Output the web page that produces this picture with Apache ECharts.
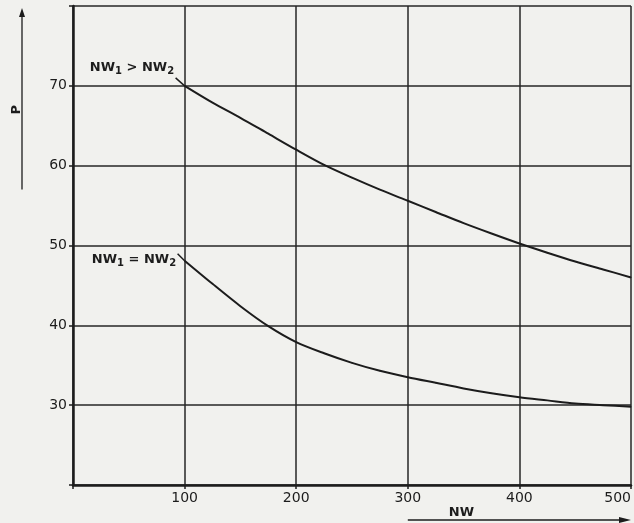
<!DOCTYPE html>
<html><head><meta charset="utf-8">
<script src="https://cdn.jsdelivr.net/npm/echarts@6/dist/echarts.min.js"></script>
<style>html,body{margin:0;padding:0;background:#f1f1ee}#c{width:634px;height:523px}</style>
</head><body><div id="c"></div>
<script>
// NW values (x) and P values (y)
const nwValues = [100, 125, 150, 175, 200, 225, 250, 275, 300, 325, 350, 375, 400, 425, 450, 475, 500];
const pUpper   = [70.0, 67.9, 66.0, 64.0, 62.0, 60.1, 58.5, 57.0, 55.6, 54.2, 52.8, 51.5, 50.25, 49.1, 48.0, 47.0, 46.0];
const pLower   = [48.1, 45.2, 42.4, 39.9, 37.9, 36.5, 35.3, 34.3, 33.5, 32.8, 32.1, 31.5, 31.0, 30.6, 30.2, 30.0, 29.8];
const xTickLabels = ['100', '200', '300', '400', '500'];
const yTickLabels = ['30', '40', '50', '60', '70'];
const upperName = ['NW', '1', ' > NW', '2'];
const lowerName = ['NW', '1', ' = NW', '2'];
const xAxisName = 'NW';
const yAxisName = 'P';

const INK = '#1c1c1c';
const FONT = 'DejaVu Sans';

function richName(parts) {
  return '{a|' + parts[0] + '}{s|' + parts[1] + '}{a|' + parts[2] + '}{s|' + parts[3] + '}';
}
const rich = {
  a: {fontFamily: FONT, fontSize: 13, fontWeight: 'bold', color: INK, lineHeight: 18},
  s: {fontFamily: FONT, fontSize: 10, fontWeight: 'bold', color: INK, lineHeight: 18, verticalAlign: 'bottom', padding: [5, 0, 0, 0]}
};

function buildData(ys, parts, dx, dy) {
  return nwValues.map((x, i) => {
    if (i === 0) {
      return {value: [x, ys[i]], label: {show: true, position: 'left', distance: 0,
        formatter: richName(parts), rich: rich, offset: [dx, dy]}};
    }
    return [x, ys[i]];
  });
}

const chart = echarts.init(document.getElementById('c'), null, {renderer: 'canvas'});
const gridLeft = 73, gridTop = 6, gridBottom = 38, gridRight = 1;

chart.setOption({
  backgroundColor: '#f1f1ee',
  animation: false,
  grid: {left: gridLeft, top: gridTop, right: gridRight, bottom: gridBottom},
  xAxis: {
    type: 'value', min: 0, max: 500, interval: 100,
    axisLine: {show: true, onZero: false, lineStyle: {color: INK, width: 2.5}},
    axisTick: {show: true, length: 4, lineStyle: {color: INK, width: 1.5}},
    splitLine: {show: true, lineStyle: {color: '#262626', width: 1.5}},
    axisLabel: {
      margin: 6, fontFamily: FONT, fontSize: 14, color: INK,
      alignMaxLabel: 'right',
      formatter: v => xTickLabels.includes(String(v)) ? String(v) : ''
    }
  },
  yAxis: {
    type: 'value', min: 20, max: 80, interval: 10,
    axisLine: {show: true, onZero: false, lineStyle: {color: INK, width: 2.5}},
    axisTick: {show: true, length: 4, lineStyle: {color: INK, width: 1.5}},
    splitLine: {show: true, lineStyle: {color: '#262626', width: 1.5}},
    axisLabel: {
      margin: 6, fontFamily: FONT, fontSize: 14, color: INK,
      formatter: v => yTickLabels.includes(String(v)) ? String(v) : ''
    }
  },
  series: [
    {type: 'line', smooth: 0.3, symbol: 'circle', symbolSize: 1, showSymbol: true,
     itemStyle: {color: INK}, lineStyle: {color: INK, width: 2},
     data: buildData(pUpper, upperName, -10, -18)},
    {type: 'line', smooth: 0.3, symbol: 'circle', symbolSize: 1, showSymbol: true,
     itemStyle: {color: INK}, lineStyle: {color: INK, width: 2},
     data: buildData(pLower, lowerName, -8, -1)}
  ]
});

// Decorative axis arrows and names placed relative to the grid
const yTopPx = chart.convertToPixel({gridIndex: 0}, [0, 80]);
const yMidPx = chart.convertToPixel({gridIndex: 0}, [0, 57]);
const xStartPx = chart.convertToPixel({gridIndex: 0}, [300, 20]);
const xEndPx = chart.convertToPixel({gridIndex: 0}, [500, 20]);
const ax = gridLeft - 51;
const ay = xStartPx[1] + 35;
// leader lines from labels to curve starts
const up0 = chart.convertToPixel({gridIndex: 0}, [nwValues[0], pUpper[0]]);
const lo0 = chart.convertToPixel({gridIndex: 0}, [nwValues[0], pLower[0]]);

chart.setOption({
  graphic: [
    {type: 'line', shape: {x1: ax, y1: yTopPx[1] + 8, x2: ax, y2: yMidPx[1]}, style: {stroke: INK, lineWidth: 1.3}},
    {type: 'polygon', shape: {points: [[ax, yTopPx[1] + 2], [ax - 3, yTopPx[1] + 11], [ax + 3, yTopPx[1] + 11]]}, style: {fill: INK}},
    {type: 'text', x: ax - 5, y: (yTopPx[1] + yMidPx[1]) / 2 + 12, rotation: Math.PI / 2,
     style: {text: yAxisName, font: 'bold 13px "DejaVu Sans"', fill: INK, align: 'center', verticalAlign: 'middle'}},
    {type: 'line', shape: {x1: xStartPx[0], y1: ay, x2: xEndPx[0] - 8, y2: ay}, style: {stroke: INK, lineWidth: 1.3}},
    {type: 'polygon', shape: {points: [[xEndPx[0], ay], [xEndPx[0] - 12, ay - 3], [xEndPx[0] - 12, ay + 3]]}, style: {fill: INK}},
    {type: 'text', x: (xStartPx[0] + xEndPx[0]) / 2 - 58, y: ay - 7,
     style: {text: xAxisName, font: 'bold 13px "DejaVu Sans"', fill: INK, align: 'center', verticalAlign: 'middle'}},
    {type: 'line', shape: {x1: up0[0] - 9, y1: up0[1] - 8, x2: up0[0], y2: up0[1]}, style: {stroke: INK, lineWidth: 1.5}},
    {type: 'line', shape: {x1: lo0[0] - 7, y1: lo0[1] - 7, x2: lo0[0], y2: lo0[1]}, style: {stroke: INK, lineWidth: 1.5}}
  ]
});
</script>
</body></html>
